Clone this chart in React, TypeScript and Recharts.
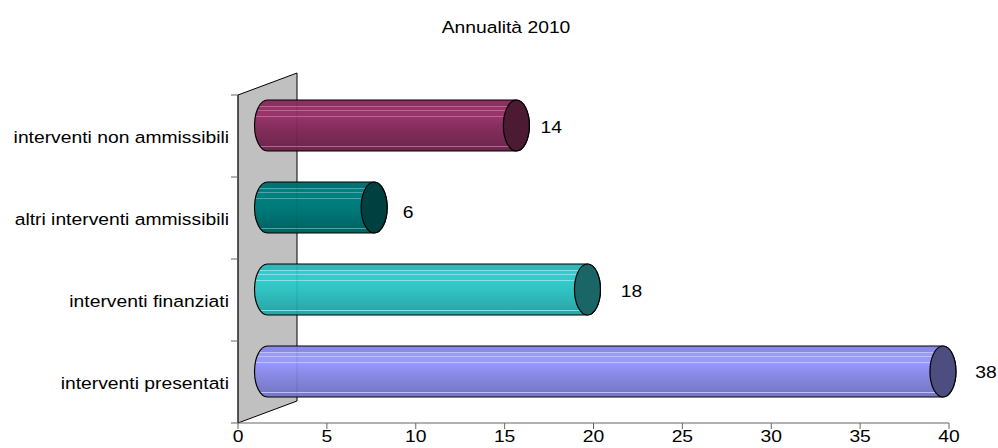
import React from 'react';
import { BarChart, Bar, XAxis, YAxis, ReferenceArea, LabelList, Cell } from 'recharts';

const categories = ['interventi non ammissibili', 'altri interventi ammissibili', 'interventi finanziati', 'interventi presentati'];
const values = [14, 6, 18, 38];
const xTicks = [0, 5, 10, 15, 20, 25, 30, 35, 40];

// top, lightest, lower, bottom, highlight line
const bodyColors = [
  ['#8b3060', '#99346a', '#842d5c', '#70274f', '#b5688f'],
  ['#007272', '#008080', '#007878', '#006565', '#4da6a6'],
  ['#2eb8b8', '#33cccc', '#30c0c0', '#2aa8a8', '#85e0e0'],
  ['#8a8ae8', '#9999ff', '#8a8ae6', '#7878c8', '#bfbfff'],
];
const capColors = ['#4d1a33', '#004040', '#1a6666', '#4d4d80'];

// value labels do not sit the same distance from each bar in the source
const labelShiftX = [35, 34, 44, 43];
const labelShiftY = [1, 4, 1, 0];

const data = categories.map((name, i) => ({ name, value: values[i] }));

// fake 3D depth, the chart floor runs back up and to the right
const DEPTH_X = 59;
const DEPTH_Y = 21;
const RX = 13;

// source text is stretched sideways, plain font sizes can't get both width and height
const WideText = ({ x, y, anchor, children }: any) => (
  <text transform={`translate(${x} ${y}) scale(1.135 1)`} textAnchor={anchor} fontSize={17} fill="#000">
    {children}
  </text>
);

const Cylinder = (props: any) => {
  const { x, y, width, height, index } = props;
  const left = x + DEPTH_X / 2;
  const right = left + width;
  const cy = y + height / 2 - DEPTH_Y / 2;
  const ry = 25.5;
  const top = cy - ry;
  const bottom = cy + ry;
  const d = `M${left} ${top} L${right} ${top} A${RX} ${ry} 0 0 1 ${right} ${bottom} L${left} ${bottom} A${RX} ${ry} 0 0 1 ${left} ${top} Z`;
  return (
    <g>
      <path d={d} fill={`url(#tube${index})`} stroke="#000" strokeWidth={1.2} />
      <line x1={x + DEPTH_X} x2={x + DEPTH_X} y1={top + 1} y2={bottom - 1} stroke="#000" strokeOpacity={0.1} />
      <ellipse cx={right} cy={cy} rx={RX} ry={ry} fill={capColors[index]} stroke="#000" strokeWidth={1.2} />
    </g>
  );
};

const Wall = (props: any) => {
  const { x, y, width, height } = props;
  const pts = [
    [x, y],
    [x + width, y - 22],
    [x + width, y + height - 22],
    [x, y + height],
  ];
  return <polygon points={pts.map((p) => p.join(',')).join(' ')} fill="#c0c0c0" stroke="#000" strokeWidth={1} />;
};

const CategoryTick = (props: any) => {
  const { x, y, payload, index } = props;
  const band = 82;
  return (
    <g>
      <WideText x={x - 1} y={y + 7} anchor="end">
        {payload.value}
      </WideText>
      <line x1={x + 1} x2={x + 8} y1={y + band / 2} y2={y + band / 2} stroke="#666" />
      {index === 0 && <line x1={x + 1} x2={x + 8} y1={y - band / 2} y2={y - band / 2} stroke="#666" />}
    </g>
  );
};

const ValueTick = ({ x, y, payload }: any) => (
  <WideText x={x} y={y + 11} anchor="middle">
    {payload.value}
  </WideText>
);

const ValueLabel = (props: any) => {
  const { x, y, width, height, value, index } = props;
  return (
    <WideText
      x={x + width + DEPTH_X / 2 + labelShiftX[index]}
      y={y + height / 2 - DEPTH_Y / 2 + 6 + labelShiftY[index]}
      anchor="middle"
    >
      {value}
    </WideText>
  );
};

export default function App() {
  return (
    <div style={{ position: 'absolute', left: 0, top: 0, fontFamily: '"Liberation Sans", Arial, sans-serif' }}>
      <BarChart
        width={998}
        height={448}
        data={data}
        layout="vertical"
        barCategoryGap={15.5}
        margin={{ top: 95, right: 49, bottom: 0, left: 8 }}
      >
        <defs>
          {bodyColors.map((c, i) => (
            <linearGradient id={`tube${i}`} key={i} x1="0" y1="0" x2="0" y2="1">
              <stop offset="0" stopColor={c[0]} />
              <stop offset="0.115" stopColor={c[0]} />
              <stop offset="0.115" stopColor={c[4]} />
              <stop offset="0.135" stopColor={c[4]} />
              <stop offset="0.135" stopColor={c[1]} />
              <stop offset="0.195" stopColor={c[1]} />
              <stop offset="0.195" stopColor={c[4]} />
              <stop offset="0.215" stopColor={c[4]} />
              <stop offset="0.215" stopColor={c[1]} />
              <stop offset="0.305" stopColor={c[1]} />
              <stop offset="0.305" stopColor={c[4]} />
              <stop offset="0.325" stopColor={c[4]} />
              <stop offset="0.325" stopColor={c[1]} />
              <stop offset="0.55" stopColor={c[2]} />
              <stop offset="0.895" stopColor={c[3]} />
              <stop offset="0.895" stopColor={c[4]} />
              <stop offset="0.915" stopColor={c[4]} />
              <stop offset="0.915" stopColor={c[3]} />
              <stop offset="1" stopColor={c[3]} />
            </linearGradient>
          ))}
        </defs>
        <WideText x={506} y={33} anchor="middle">
          Annualità 2010
        </WideText>
        <ReferenceArea x1={0} x2={3.32} ifOverflow="visible" shape={<Wall />} />
        <XAxis
          type="number"
          domain={[0, 40]}
          ticks={xTicks}
          height={25}
          stroke="#666"
          tickSize={6}
          tick={<ValueTick />}
          interval={0}
        />
        <YAxis
          type="category"
          dataKey="name"
          width={230}
          stroke="#333"
          tickLine={false}
          tick={<CategoryTick />}
          interval={0}
        />
        <Bar dataKey="value" isAnimationActive={false} shape={<Cylinder />}>
          {data.map((d) => (
            <Cell key={d.name} />
          ))}
          <LabelList dataKey="value" content={<ValueLabel />} />
        </Bar>
      </BarChart>
    </div>
  );
}
